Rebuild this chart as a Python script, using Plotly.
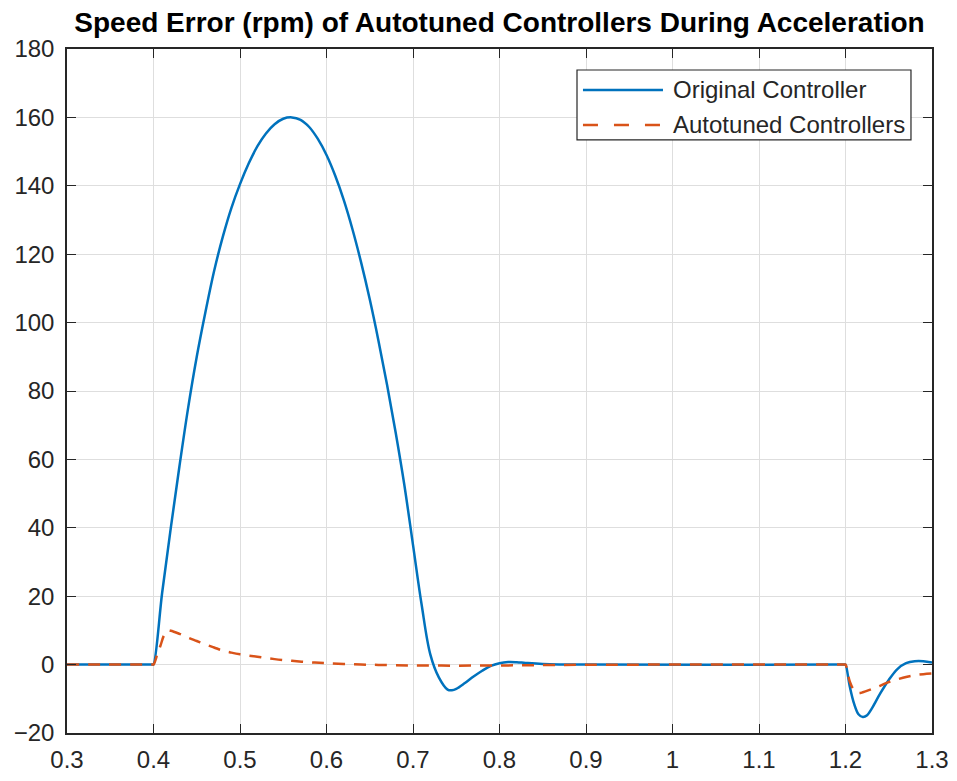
import plotly.graph_objects as go

# time (s) and speed error (rpm)
t_orig = [0.30, 0.39, 0.399, 0.40, 0.41, 0.42, 0.43, 0.44, 0.45, 0.46, 0.47,
          0.48, 0.49, 0.50, 0.51, 0.52, 0.53, 0.54, 0.55, 0.56, 0.57, 0.58,
          0.59, 0.60, 0.61, 0.62, 0.63, 0.64, 0.65, 0.66, 0.67, 0.68, 0.69,
          0.70, 0.71, 0.72, 0.73, 0.74, 0.745, 0.75, 0.76, 0.77, 0.78, 0.79,
          0.80, 0.81, 0.82, 0.83, 0.85, 0.90, 1.19, 1.199, 1.20, 1.205, 1.21,
          1.215, 1.22, 1.225, 1.23, 1.24, 1.25, 1.26, 1.27, 1.28, 1.29, 1.30]
err_orig = [0, 0, 0, 0, 21, 40, 58, 75, 90, 103, 115,
            125, 133.5, 140.5, 146.5, 151.5, 155.3, 158, 159.6, 160, 159.3, 157.2,
            153.7, 149, 143, 135.8, 127.3, 117.6, 106.8, 94.8, 81.8, 67.8, 52.5,
            35, 17.5, 3.0, -3.8, -7.3, -7.5, -7.1, -5.4, -3.5, -1.8, -0.4,
            0.4, 0.75, 0.7, 0.5, 0.2, 0, 0, 0, 0, -6.5, -11.5,
            -14.5, -15.3, -14.8, -13, -8.5, -4.5, -1.3, 0.4, 1.0, 1.0, 0.6]

t_auto = [0.30, 0.39, 0.399, 0.40, 0.405, 0.408, 0.412, 0.416, 0.42, 0.43,
          0.44, 0.45, 0.46, 0.47, 0.48, 0.49, 0.50, 0.52, 0.54, 0.56, 0.58,
          0.60, 0.63, 0.66, 0.70, 0.75, 0.80, 0.85, 0.90, 1.00, 1.19, 1.199,
          1.20, 1.205, 1.21, 1.215, 1.22, 1.23, 1.24, 1.25, 1.26, 1.27, 1.28,
          1.29, 1.30]
err_auto = [0, 0, 0, 0, 3.5, 5.5, 8.5, 10, 9.9, 9.0,
            7.9, 6.9, 5.9, 5.0, 4.1, 3.5, 3.0, 2.3, 1.6, 1.1, 0.7,
            0.4, 0.1, -0.1, -0.25, -0.3, -0.25, -0.15, -0.05, 0, 0, 0,
            0, -5, -7.5, -8.3, -8.1, -7.2, -6.2, -5.1, -4.3, -3.6, -3.1,
            -2.8, -2.6]

x_ticks = [0.3, 0.4, 0.5, 0.6, 0.7, 0.8, 0.9, 1.0, 1.1, 1.2, 1.3]
x_labels = ["0.3", "0.4", "0.5", "0.6", "0.7", "0.8", "0.9", "1", "1.1", "1.2", "1.3"]
y_ticks = [-20, 0, 20, 40, 60, 80, 100, 120, 140, 160, 180]

names = ["Original Controller", "Autotuned Controllers"]
colors = ["#0072BD", "#D95319"]
FONT = "Liberation Sans, Arial"

fig = go.Figure()
fig.add_trace(go.Scatter(x=t_orig, y=err_orig, mode="lines", name=names[0], showlegend=False,
                         line=dict(color=colors[0], width=2.5, shape="spline", smoothing=1)))
fig.add_trace(go.Scatter(x=t_auto, y=err_auto, mode="lines", name=names[1], showlegend=False,
                         line=dict(color=colors[1], width=2.5, dash="12px,9px",
                                   shape="spline", smoothing=1)))

axis_style = dict(showline=True, linecolor="#262626", linewidth=1.5, mirror="ticks",
                  ticks="inside", ticklen=9, tickcolor="#262626", tickwidth=1.2,
                  showgrid=True, gridcolor="#dedede", gridwidth=1, zeroline=False,
                  automargin=False,
                  tickfont=dict(family=FONT, size=24, color="#262626"))

fig.update_xaxes(range=[0.3, 1.3], tickvals=x_ticks, ticktext=x_labels,
                 ticklabelstandoff=4, **axis_style)
fig.update_yaxes(range=[-20, 180], tickvals=y_ticks, ticklabelstandoff=6, **axis_style)

# MATLAB-style legend box with long line samples
fig.add_shape(type="rect", xref="paper", yref="paper", x0=0.5896, x1=0.9757, y0=0.867, y1=0.9693,
              line=dict(color="#262626", width=1.2), fillcolor="white", layer="above")
legend_rows = [0.9401, 0.8889]
legend_dash = ["solid", "15px,16px"]
for name, color, dash, yy in zip(names, colors, legend_dash, legend_rows):
    fig.add_shape(type="line", xref="paper", yref="paper", x0=0.5965, x1=0.689, y0=yy, y1=yy,
                  line=dict(color=color, width=2.5, dash=dash), layer="above")
    fig.add_annotation(text=name, xref="paper", yref="paper", x=0.6983, y=yy,
                       xanchor="left", yanchor="middle", showarrow=False,
                       font=dict(family=FONT, size=24, color="#262626"))

fig.update_layout(
    width=949, height=765,
    margin=dict(l=59, r=25, t=41, b=40),
    paper_bgcolor="white", plot_bgcolor="white",
    title=dict(text="<b>Speed Error (rpm) of Autotuned Controllers During Acceleration</b>",
               x=0.5, xref="paper", y=0.981, yanchor="middle",
               font=dict(family=FONT, size=28, color="black")),
)

fig.write_html("out.html")
